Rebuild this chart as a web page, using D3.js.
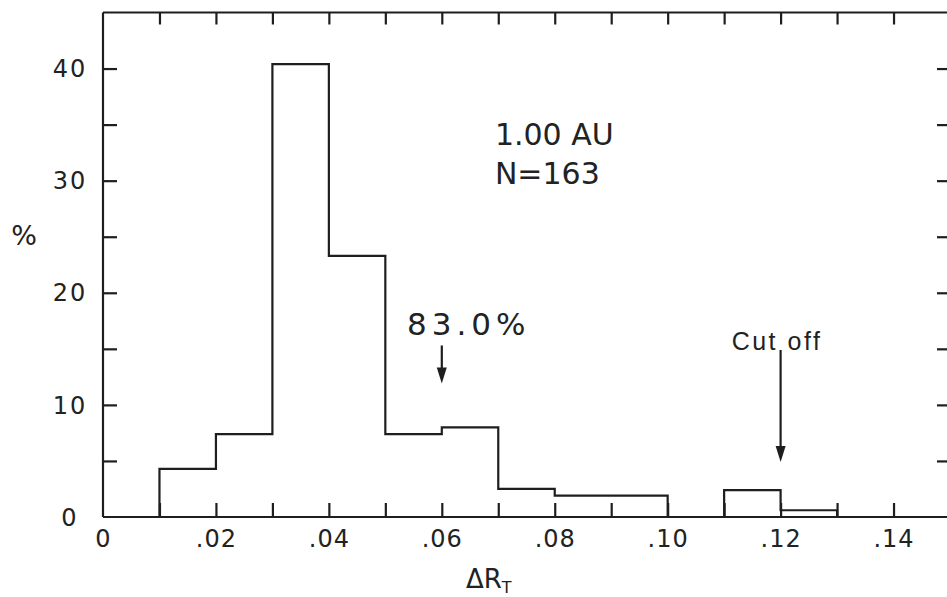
<!DOCTYPE html>
<html>
<head>
<meta charset="utf-8">
<script src="https://cdn.jsdelivr.net/npm/d3@7"></script>
<style>
  html, body { margin: 0; padding: 0; background: #fff; }
  svg { display: block; }
  text { fill: #222; }
</style>
</head>
<body>
<svg id="chart" width="947" height="597"></svg>
<script>
// ---- data ----
const binStarts = [0.01, 0.02, 0.03, 0.04, 0.05, 0.06, 0.07, 0.08, 0.09, 0.10, 0.11, 0.12];
const binWidth = 0.01;
const percents = [4.3, 7.4, 40.4, 23.3, 7.4, 8.0, 2.5, 1.9, 1.9, 0, 2.4, 0.6];

const xMinorTicks = [0.01,0.02,0.03,0.04,0.05,0.06,0.07,0.08,0.09,0.10,0.11,0.12,0.13,0.14];
const xLabelTicks = [0, 0.02, 0.04, 0.06, 0.08, 0.10, 0.12, 0.14];
const yMinorTicks = [5, 10, 15, 20, 25, 30, 35, 40];
const yLabelTicks = [0, 10, 20, 30, 40];

const infoLines = ["1.00 AU", "N=163"];
const arrowLabels = ["83.0%", "Cut off"];
const arrowX = [0.06, 0.12];
const arrowFrom = [15.3, 14.9];
const arrowTo = [11.9, 4.9];

// ---- layout ----
const svg = d3.select("#chart");
const x = d3.scaleLinear().domain([0, 0.15]).range([103, 950]);
const y = d3.scaleLinear().domain([0, 45]).range([517, 12.5]);
const ink = "#1e1e1e";
const geo = "'DejaVu Sans', sans-serif";
const sw = 2.2;

// frame lines
const frame = svg.append("g").attr("stroke", ink).attr("stroke-width", sw).attr("fill", "none");
frame.append("line").attr("x1", x(0)).attr("x2", x(0.15)).attr("y1", y(0)).attr("y2", y(0));
frame.append("line").attr("x1", x(0)).attr("x2", x(0.15)).attr("y1", y(45)).attr("y2", y(45));
frame.append("line").attr("x1", x(0)).attr("x2", x(0)).attr("y1", y(0)).attr("y2", y(45));
frame.append("line").attr("x1", x(0.15)).attr("x2", x(0.15)).attr("y1", y(0)).attr("y2", y(45));

function styleTicks(g) {
  g.select(".domain").remove();
  g.selectAll(".tick line").attr("stroke", ink).attr("stroke-width", sw);
}

// inward ticks on all four sides
svg.append("g").attr("transform", `translate(0,${y(0)})`)
  .call(d3.axisBottom(x).tickValues(xMinorTicks).tickSize(-14).tickFormat(""))
  .call(styleTicks);
svg.append("g").attr("transform", `translate(0,${y(45)})`)
  .call(d3.axisTop(x).tickValues(xMinorTicks).tickSize(-12).tickFormat(""))
  .call(styleTicks);
svg.append("g").attr("transform", `translate(${x(0)},0)`)
  .call(d3.axisLeft(y).tickValues(yMinorTicks).tickSize(-14).tickFormat(""))
  .call(styleTicks);
svg.append("g").attr("transform", `translate(${x(0.15)},0)`)
  .call(d3.axisRight(y).tickValues(yMinorTicks).tickSize(-13).tickFormat(""))
  .call(styleTicks);

// tick labels
const fmtX = d => d === 0 ? "0" : d3.format(".2f")(d).replace(/^0/, "");
const xl = svg.append("g").attr("transform", `translate(0,${y(0)})`)
  .call(d3.axisBottom(x).tickValues(xLabelTicks).tickSize(0).tickPadding(13).tickFormat(fmtX));
xl.select(".domain").remove();
xl.selectAll("text").attr("font-family", geo).attr("font-size", 24)
  .attr("letter-spacing", 1).attr("fill", ink);

svg.append("g").selectAll("text").data(yLabelTicks).join("text")
  .attr("x", 70).attr("y", d => y(d)).attr("dy", "0.36em")
  .attr("text-anchor", "middle").attr("font-family", geo).attr("font-size", 24)
  .attr("letter-spacing", 2).text(d => String(d));

// axis titles
svg.append("text").attr("x", 24).attr("y", 245).attr("text-anchor", "middle")
  .attr("font-family", geo).attr("font-size", 27).text("%");
const xt = svg.append("text").attr("x", 466).attr("y", 588)
  .attr("font-family", geo).attr("font-size", 26);
xt.append("tspan").text("ΔR");
xt.append("tspan").attr("font-size", 16).attr("dy", 5).text("T");

// histogram outline
const pts = [[binStarts[0], 0]];
binStarts.forEach((b, i) => { pts.push([b, percents[i]]); pts.push([b + binWidth, percents[i]]); });
pts.push([binStarts[binStarts.length - 1] + binWidth, 0]);
svg.append("path").datum(pts)
  .attr("d", d3.line().x(d => x(d[0])).y(d => y(d[1])))
  .attr("fill", "none").attr("stroke", ink).attr("stroke-width", sw)
  .attr("stroke-linejoin", "miter");

// info text
svg.append("g").selectAll("text").data(infoLines).join("text")
  .attr("x", x(0.0694)).attr("y", (d, i) => i === 0 ? 145 : 184)
  .attr("font-family", geo).attr("font-size", 30).text(d => d);

// arrows
arrowX.forEach((ax, i) => {
  const x0 = x(ax), y0 = y(arrowFrom[i]), y1 = y(arrowTo[i]);
  svg.append("line").attr("x1", x0).attr("x2", x0).attr("y1", y0).attr("y2", y1 - 12)
    .attr("stroke", ink).attr("stroke-width", sw);
  svg.append("path")
    .attr("d", `M${x0 - 5},${y1 - 16} L${x0 + 5},${y1 - 16} L${x0},${y1} Z`)
    .attr("fill", ink);
});
svg.append("text").attr("x", 407).attr("y", 335)
  .attr("font-family", geo).attr("font-size", 31).attr("letter-spacing", 5).text(arrowLabels[0]);
svg.append("text").attr("x", 777).attr("y", 350).attr("text-anchor", "middle")
  .attr("font-family", "'Liberation Sans', Arial, sans-serif").attr("font-size", 25)
  .attr("letter-spacing", 2.5).text(arrowLabels[1]);
</script>
</body>
</html>
